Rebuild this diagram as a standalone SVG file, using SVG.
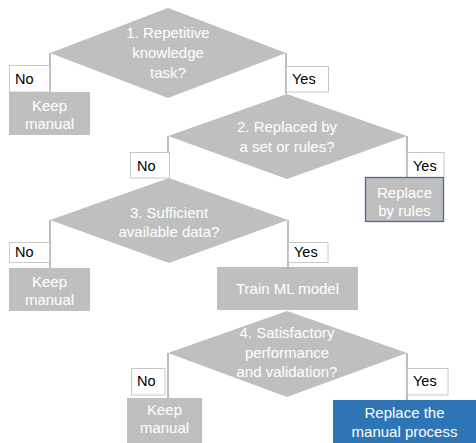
<svg xmlns="http://www.w3.org/2000/svg" width="476" height="443" viewBox="0 0 476 443">
  <style>
    .dia { fill: #bfbfbf; }
    .box { fill: #bfbfbf; }
    .lbl { fill: #ffffff; stroke: #c8c8c8; stroke-width: 1; }
    .wt { font-family: "Liberation Sans", Arial, sans-serif; font-size: 15px; fill: #ffffff; text-anchor: middle; }
    .bt { font-family: "Liberation Sans", Arial, sans-serif; font-size: 14.5px; fill: #000000; }
    .conn line { stroke: #a6a6a6; stroke-width: 1.5; }
  </style>
  <rect width="476" height="443" fill="#ffffff"/>

  <!-- connectors -->
  <g id="connectors" class="conn">
    <line x1="50" y1="53" x2="50" y2="92"/>
    <line x1="286" y1="53" x2="286" y2="94"/>
    <line x1="168" y1="136" x2="168" y2="178"/>
    <line x1="407" y1="136" x2="407" y2="177"/>
    <line x1="50" y1="220" x2="50" y2="268"/>
    <line x1="288" y1="220" x2="288" y2="267"/>
    <line x1="168" y1="353" x2="168" y2="398"/>
    <line x1="407" y1="353" x2="407" y2="400"/>
  </g>

  <!-- branch labels -->
  <g id="labels">
    <rect class="lbl" x="9.5" y="65.5" width="40" height="26.5"/>
    <text class="bt" x="15" y="84">No</text>
    <rect class="lbl" x="286.5" y="66.5" width="42" height="25.5"/>
    <text class="bt" x="292" y="84">Yes</text>
    <rect class="lbl" x="130.5" y="152.5" width="39" height="25.5"/>
    <text class="bt" x="137" y="171">No</text>
    <rect class="lbl" x="407.5" y="152.5" width="36.5" height="25"/>
    <text class="bt" x="413" y="171">Yes</text>
    <rect class="lbl" x="9.5" y="242.5" width="40" height="20"/>
    <text class="bt" x="15" y="257">No</text>
    <rect class="lbl" x="288.5" y="242.5" width="39.5" height="20"/>
    <text class="bt" x="294" y="257">Yes</text>
    <rect class="lbl" x="131.5" y="368.5" width="33.5" height="26.5"/>
    <text class="bt" x="137" y="386">No</text>
    <rect class="lbl" x="407.5" y="368.5" width="40.5" height="26.5"/>
    <text class="bt" x="413" y="386">Yes</text>
  </g>

  <!-- decisions -->
  <g id="q1">
    <polygon class="dia" points="168,8 286,53 168,98 50,53"/>
    <text class="wt" x="168" y="38">1. Repetitive</text>
    <text class="wt" x="168" y="58">knowledge</text>
    <text class="wt" x="168" y="78">task?</text>
  </g>
  <g id="q2">
    <polygon class="dia" points="287,94 407,136 287,179 168,136"/>
    <text class="wt" x="287" y="132">2. Replaced by</text>
    <text class="wt" x="287" y="152">a set or rules?</text>
  </g>
  <g id="q3">
    <polygon class="dia" points="169,178 288,220 169,263 50,220"/>
    <text class="wt" x="169" y="218">3. Sufficient</text>
    <text class="wt" x="169" y="237">available data?</text>
  </g>
  <g id="q4">
    <polygon class="dia" points="287,311 407,353 287,397 168,353"/>
    <text class="wt" x="287" y="338">4. Satisfactory</text>
    <text class="wt" x="287" y="358">performance</text>
    <text class="wt" x="287" y="377">and validation?</text>
  </g>

  <!-- outcomes -->
  <g id="keep1">
    <rect class="box" x="9" y="92" width="81" height="43"/>
    <text class="wt" x="49.5" y="111">Keep</text>
    <text class="wt" x="49.5" y="129">manual</text>
  </g>
  <g id="rules">
    <rect class="box" x="365.5" y="177.5" width="78" height="44" stroke="#4a6b9e" stroke-width="1.3"/>
    <text class="wt" x="404.5" y="198">Replace</text>
    <text class="wt" x="404.5" y="216">by rules</text>
  </g>
  <g id="keep3">
    <rect class="box" x="9" y="268" width="81" height="43"/>
    <text class="wt" x="49.5" y="287">Keep</text>
    <text class="wt" x="49.5" y="305">manual</text>
  </g>
  <g id="train">
    <rect class="box" x="217" y="267" width="141" height="43"/>
    <text class="wt" x="287.5" y="294">Train ML model</text>
  </g>
  <g id="keep4">
    <rect class="box" x="127" y="398" width="75" height="45"/>
    <text class="wt" x="164.5" y="415">Keep</text>
    <text class="wt" x="164.5" y="433">manual</text>
  </g>
  <g id="replace">
    <rect x="333" y="400" width="143" height="43" fill="#2e75b6"/>
    <text class="wt" x="404.5" y="418">Replace the</text>
    <text class="wt" x="404.5" y="437">manual process</text>
  </g>
</svg>
